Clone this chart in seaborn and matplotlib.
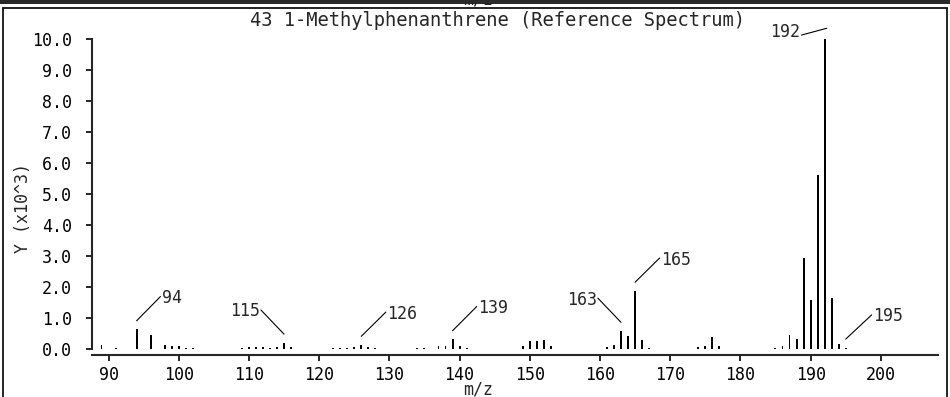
import numpy as np
import matplotlib
matplotlib.use('Agg')
import matplotlib.pyplot as plt
from matplotlib.lines import Line2D
import seaborn as sns

# ── Datos del espectro (m/z, intensidad x10^3) ───────────────────
mz = [89, 91, 94, 96, 98, 99, 100, 101, 102,
      109, 110, 111, 112, 113, 114, 115, 116,
      122, 123, 124, 125, 126, 127, 128,
      134, 135, 137, 138, 139, 140, 141,
      149, 150, 151, 152, 153,
      161, 162, 163, 164, 165, 166, 167,
      174, 175, 176, 177,
      185, 186, 187, 188, 189, 190, 191, 192, 193, 194, 195]
intensity = [0.13, 0.06, 0.65, 0.46, 0.14, 0.12, 0.10, 0.06, 0.06,
             0.04, 0.07, 0.07, 0.08, 0.06, 0.08, 0.22, 0.07,
             0.05, 0.05, 0.04, 0.09, 0.15, 0.09, 0.05,
             0.04, 0.04, 0.10, 0.12, 0.33, 0.10, 0.05,
             0.10, 0.27, 0.28, 0.30, 0.10,
             0.07, 0.14, 0.60, 0.43, 1.89, 0.30, 0.05,
             0.08, 0.10, 0.40, 0.10,
             0.05, 0.12, 0.47, 0.35, 2.93, 1.59, 5.60, 10.0, 1.64, 0.17, 0.06]

labeled_peaks = [94, 115, 126, 139, 163, 165, 192, 195]
x_ticks = list(range(90, 201, 10))
y_ticks = list(range(0, 11))

title = '43 1-Methylphenanthrene (Reference Spectrum)'

# ── Estilo ────────────────────────────────────────────────────────
sns.set_style('ticks')
plt.rcParams['font.family'] = ['DejaVu Sans Mono', 'DejaVu Sans']
FS = 12

fig = plt.figure(figsize=(9.5, 3.97), dpi=100)
ax = fig.add_axes([0.0965, 0.1058, 0.8905, 0.7972])

sns.histplot(x=mz, weights=intensity, discrete=True, shrink=0.28,
             color='black', alpha=1, linewidth=0, ax=ax)

ax.set_xlim(87.6, 208.1)
ax.set_ylim(-0.18, 10)
ax.set_xticks(x_ticks)
ax.set_yticks(y_ticks)
ax.set_yticklabels([f'{v:.1f}' for v in y_ticks])
ax.set_xlabel('')
ax.set_ylabel('')

sns.despine(ax=ax)
ax.spines['left'].set_bounds(0, 10)
for s in ('left', 'bottom'):
    ax.spines[s].set_linewidth(1.5)
ax.tick_params(axis='both', direction='out', length=4, width=1.2,
               labelsize=FS, colors='black')
ax.tick_params(axis='y', pad=10)
ax.tick_params(axis='x', pad=4)

# ── Etiquetas de picos ────────────────────────────────────────────
# (dirección del texto, desplazamiento horizontal en unidades m/z)
offsets = {94: 3.4, 115: -3.3, 126: 3.5, 139: 3.45, 163: -3.3, 165: 3.5, 195: 3.7}
for p in labeled_peaks:
    h = intensity[mz.index(p)]
    if p == 192:
        x0, y0 = p + 0.3, h + 0.33
        x1, y1 = p - 3.3, h + 0.11
        ax.plot([x0, x1], [y0, y1], color='black', lw=0.8, clip_on=False)
        ax.text(x1 - 0.15, h + 0.2, str(p), ha='right', va='center',
                fontsize=FS, clip_on=False)
        continue
    dx = offsets[p]
    x0, y0 = p, h + 0.27
    x1, y1 = p + dx, h + 1.05
    ax.plot([x0, x1], [y0, y1], color='black', lw=0.8, clip_on=False)
    ax.text(x1 + (0.15 if dx > 0 else -0.15), y1 - 0.05, str(p),
            ha='left' if dx > 0 else 'right', va='center', fontsize=FS)

# ── Textos y marco de la figura ───────────────────────────────────
W, H = 950, 397
fig.text(497 / W, 1 - 20 / H, title, ha='center', va='center', fontsize=13.5)
fig.text(478 / W, 1 - 389 / H, 'm/z', ha='center', va='center', fontsize=FS)
fig.text(23 / W, 1 - 208 / H, 'Y (x10^3)', rotation=90,
         ha='center', va='center', fontsize=FS)
fig.text(478 / W, 1 + 9 / H, 'm/z', ha='center', va='top', fontsize=FS)

def px_line(xs, ys, lw=1.2):
    fig.add_artist(Line2D([x / W for x in xs], [1 - y / H for y in ys],
                          color='black', lw=lw, transform=fig.transFigure))

px_line([0, W], [0.6, 0.6])
px_line([0, W], [2.8, 2.8])
px_line([3, W - 3], [7.5, 7.5])
px_line([3, 3], [7.5, H])
px_line([W - 3, W - 3], [7.5, H])

plt.savefig('out.png', dpi=100)
